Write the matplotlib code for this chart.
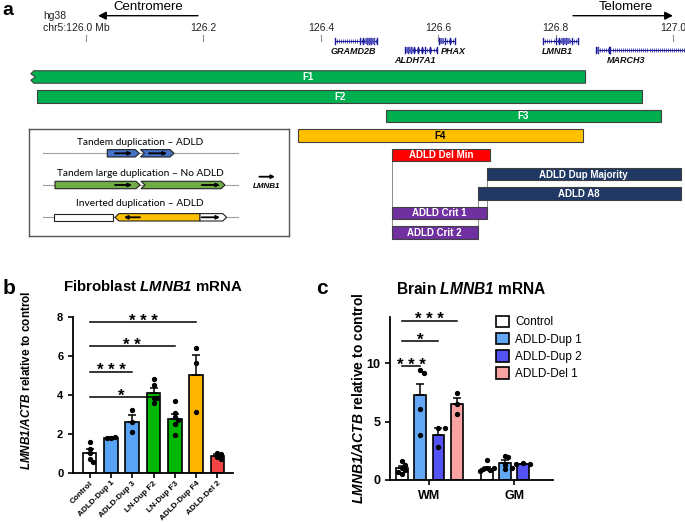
import numpy as np
import matplotlib
matplotlib.use('Agg')
import matplotlib.pyplot as plt
from matplotlib.patches import Polygon, Rectangle, Patch

plt.rcParams['font.family'] = ['Liberation Sans', 'DejaVu Sans']
plt.rcParams['mathtext.fontset'] = 'custom'
plt.rcParams['mathtext.rm'] = 'Liberation Sans'
plt.rcParams['mathtext.it'] = 'Liberation Sans:italic'
plt.rcParams['mathtext.bf'] = 'Liberation Sans:bold'
plt.rcParams['mathtext.bfit'] = 'Liberation Sans:italic:bold'

# ---------------- data ----------------
# panel a: genomic segments (Mb, hg38 chr5)
segments = ['F1', 'F2', 'F3', 'F4', 'ADLD Del Min', 'ADLD Dup Majority',
            'ADLD A8', 'ADLD Crit 1', 'ADLD Crit 2']
seg_start = [125.906, 125.917, 126.511, 126.361, 126.521, 126.683, 126.667, 126.521, 126.521]
seg_end = [126.851, 126.948, 126.979, 126.846, 126.689, 127.013, 127.013, 126.683, 126.667]
connectors = [(4, 8), (5, 7), (6, 8)]  # (from segment, to segment) at start edge

genes = ['GRAMD2B', 'ALDH7A1', 'PHAX', 'LMNB1', 'MARCH3']
gene_start = [126.424, 126.543, 126.601, 126.779, 126.869]
gene_end = [126.495, 126.598, 126.629, 126.838, 127.025]
gene_exons = [
    [126.424, 126.466, 126.472, 126.478, 126.482, 126.486, 126.490, 126.495],
    [126.543, 126.548, 126.553, 126.558, 126.566, 126.572, 126.578, 126.586, 126.598],
    [126.601, 126.612, 126.620, 126.629],
    [126.779, 126.800, 126.806, 126.812, 126.818, 126.828, 126.838],
    [126.869, 126.873, 126.891, 126.893],
]
gene_blocks = [(126.476, 126.492), (126.545, 126.557), (126.603, 126.610),
               (126.809, 126.824), (126.870, 126.874)]
axis_ticks = [126.0, 126.2, 126.4, 126.6, 126.8, 127.0]
axis_ticklabels = ['', '126.2', '126.4', '126.6', '126.8', '127.0']

# panel b: fibroblast LMNB1 mRNA
fib_groups = ['Control', 'ADLD-Dup 1', 'ADLD-Dup 3', 'LN-Dup F2', 'LN-Dup F3',
              'ADLD-Dup F4', 'ADLD-Del 2']
fib_mean = [1.0, 1.8, 2.62, 4.1, 2.75, 5.05, 0.87]
fib_sem = [0.2, 0.03, 0.35, 0.25, 0.27, 1.0, 0.07]
fib_points = [
    [1.56, 1.2, 1.0, 0.7, 0.57],
    [1.78, 1.82, 1.8],
    [3.23, 2.6, 2.08],
    [4.83, 4.5, 3.87, 3.87, 3.57],
    [3.7, 3.05, 2.85, 2.7, 2.5, 1.95],
    [6.44, 5.67, 3.11],
    [1.02, 0.96, 0.8, 0.72],
]
fib_sig = [(3, '*', 3.9), (2, '***', 5.2), (4, '**', 6.5), (5, '***', 7.75)]

# panel c: brain LMNB1 mRNA
regions = ['WM', 'GM']
brain_groups = ['Control', 'ADLD-Dup 1', 'ADLD-Dup 2', 'ADLD-Del 1']
brain_mean = [[1.0, 7.25, 3.88, 6.5], [0.97, 1.45, 1.33]]
brain_sem = [[0.17, 1.0, 0.55, 0.56], [0.12, 0.3, 0.05]]
brain_points = [
    [[1.6, 1.3, 1.0, 0.85, 0.7, 0.55], [9.4, 9.2, 6.1, 3.9], [4.45, 4.43, 2.86], [7.49, 6.49, 5.66]],
    [[1.7, 1.05, 1.0, 0.95, 0.85, 0.75], [2.05, 1.95, 1.3, 0.95, 1.0], [1.42, 1.38, 1.33]],
]
brain_sig = [(1, '***', 9.77), (2, '*', 11.9), (3, '***', 13.65)]

# ---------------- styles ----------------
seg_colors = ['#00B050', '#00B050', '#00B050', '#FFC000', '#FF0000',
              '#1F3864', '#1F3864', '#7030A0', '#7030A0']
seg_text = ['white', 'white', 'white', 'black', 'white', 'white', 'white', 'white', 'white']
fib_colors = ['white', '#59A3F5', '#59A3F5', '#00B800', '#00B800', '#FFB400', '#F24444']
brain_colors = ['white', '#62A8F5', '#5252F5', '#F8A2A2']
gene_color = '#1C1C9A'

W, H = 685, 522
fig = plt.figure(figsize=(W / 100, H / 100), dpi=100)


def px_axes(x0, y0, x1, y1):
    return fig.add_axes([x0 / W, 1 - y1 / H, (x1 - x0) / W, (y1 - y0) / H])


def swarm(vals, yscale, dist, step):
    placed, offs = [], []
    for v in vals:
        o = 0.0
        for k in [0, 1, -1, 2, -2, 3, -3]:
            o = k * step
            if all(np.hypot(o - po, (v - pv) * yscale) >= dist for po, pv in placed):
                break
        placed.append((o, v))
        offs.append(o)
    return np.array(offs)


# ================= panel a =================
MB0, PX0, PXMB = 126.0, 86.0, 587.0
ROW0, ROWPX = 77.0, 19.44


def mb(px):
    return MB0 + (px - PX0) / PXMB


def row(py):
    return (py - ROW0) / ROWPX


ax_a = px_axes(0, 0, W, 250)
ax_a.set_xlim(mb(0), mb(W))
ax_a.set_ylim(row(250), row(0))
ax_a.axis('off')

bh = 0.64
for i, name in enumerate(segments):
    x0, x1 = seg_start[i], seg_end[i]
    if i == 0:
        d = 3 / PXMB
        verts = [(x0 + d, i - bh / 2), (x1, i - bh / 2), (x1, i + bh / 2), (x0 + d, i + bh / 2),
                 (x0, i + bh / 4), (x0 + 1.6 * d, i), (x0, i - bh / 4)]
        ax_a.add_patch(Polygon(verts, closed=True, facecolor=seg_colors[i],
                               edgecolor='#404040', lw=0.8, zorder=3))
    else:
        ax_a.barh(i, x1 - x0, left=x0, height=bh, color=seg_colors[i],
                  edgecolor='#404040', lw=0.8, zorder=3)
    ax_a.text((x0 + x1) / 2, i + 0.02, name, color=seg_text[i], fontsize=7,
              fontweight='bold', ha='center', va='center', zorder=4)

for src, dst in connectors:
    xc = seg_start[src]
    ax_a.plot([xc, xc], [src + bh / 2, dst - bh / 2], color='#8C8C8C', lw=0.7, zorder=1)

# genome axis
for t, lab in zip(axis_ticks, axis_ticklabels):
    ax_a.plot([t, t], [row(34.5), row(40.5)], color='#909090', lw=0.8)
    if lab:
        ax_a.text(t, row(28), lab, fontsize=7.5, ha='center', va='center', color='#222222')
ax_a.text(mb(43), row(28), 'chr5:126.0 Mb', fontsize=7.5, ha='left', va='center', color='#222222')
ax_a.text(mb(43), row(16), 'hg38', fontsize=7.5, ha='left', va='center', color='#222222')

ax_a.annotate('', xy=(mb(98), row(15.7)), xytext=(mb(198), row(15.7)),
              arrowprops=dict(arrowstyle='-|>', color='black', lw=1.0, mutation_scale=12,
                              shrinkA=0, shrinkB=0))
ax_a.text(mb(148), row(7.5), 'Centromere', fontsize=9.5, ha='center', va='center')
ax_a.annotate('', xy=(mb(673), row(15.7)), xytext=(mb(573), row(15.7)),
              arrowprops=dict(arrowstyle='-|>', color='black', lw=1.0, mutation_scale=12,
                              shrinkA=0, shrinkB=0))
ax_a.text(mb(625.5), row(7.5), 'Telomere', fontsize=9.5, ha='center', va='center')

# gene tracks
gene_track_py = [41, 50, 41, 41, 50]
gene_label_py = [51.7, 60.5, 51.7, 51.7, 60.5]
gene_label_shift = [-2, -6, 6, -3, -8]
for g, name in enumerate(genes):
    yr = row(gene_track_py[g])
    ax_a.plot([gene_start[g], gene_end[g]], [yr, yr], color=gene_color, lw=0.8, zorder=2)
    ch = np.arange(gene_start[g], gene_end[g], 0.0035)
    ax_a.plot(ch, np.full(len(ch), yr), ls='none', marker='|', ms=2.2, mew=0.5,
              color=gene_color, zorder=2)
    for e in gene_exons[g]:
        ax_a.plot([e, e], [yr - 0.15, yr + 0.15], color=gene_color, lw=1.0, zorder=2)
    b0, b1 = gene_blocks[g]
    ax_a.add_patch(Rectangle((b0, yr - 0.13), b1 - b0, 0.26, facecolor='#5858C0',
                             edgecolor='none', alpha=0.8, zorder=2))
    xc = (gene_start[g] + min(gene_end[g], 127.0)) / 2 + gene_label_shift[g] / PXMB
    ax_a.text(xc, row(gene_label_py[g]), name, fontsize=6.5, fontstyle='italic',
              fontweight='bold', ha='center', va='center', color='#111111')

fig.text(2 / W, 1 - 2 / H, 'a', fontsize=14, fontweight='bold', ha='left', va='top')

# inset schematic
ax_i = px_axes(29, 129, 289, 236)
ax_i.set_xlim(0, 260)
ax_i.set_ylim(107, 0)
ax_i.set_xticks([])
ax_i.set_yticks([])
for s in ax_i.spines.values():
    s.set_color('#555555')
    s.set_linewidth(1.0)
ax_i.set_facecolor('white')
ax_i.set_zorder(5)


def shape(x0, x1, yc, color, point, notch=False, h=7.4, tip=4.0):
    t, b = yc - h / 2, yc + h / 2
    if point == 'right':
        left = [(x0, b), (x0 + tip, yc), (x0, t)] if notch else [(x0, b), (x0, t)]
        verts = left + [(x1 - tip, t), (x1, yc), (x1 - tip, b)]
    elif point == 'left':
        verts = [(x0, yc), (x0 + tip, t), (x1, t), (x1, b), (x0 + tip, b)]
    else:
        verts = [(x0, t), (x1, t), (x1, b), (x0, b)]
    ax_i.add_patch(Polygon(verts, closed=True, facecolor=color, edgecolor='#222222',
                           lw=0.8, zorder=3))


def small_arrow(xs, xe, yc):
    ax_i.annotate('', xy=(xe, yc), xytext=(xs, yc),
                  arrowprops=dict(arrowstyle='-|>', color='black', lw=1.3, mutation_scale=5,
                                  shrinkA=0, shrinkB=0), zorder=4)


ifont = dict(family=['Lato', 'DejaVu Sans'], fontsize=7.3, ha='center', va='center')
for yl in [24.3, 56, 88.3]:
    ax_i.plot([14.3, 209], [yl, yl], color='#A0A0A0', lw=0.8, zorder=1)
ax_i.text(111, 13, 'Tandem duplication \u2013 ADLD', **ifont)
shape(78.3, 110.3, 24.3, '#4472C4', 'right')
shape(111.5, 145, 24.3, '#4472C4', 'right', notch=True)
small_arrow(86, 103, 24.3)
small_arrow(120, 138, 24.3)

ax_i.text(111, 44.3, 'Tandem large duplication \u2013 No ADLD', **ifont)
shape(26, 111, 56, '#70AD47', 'right')
shape(112, 196, 56, '#70AD47', 'right', notch=True)
small_arrow(86, 103, 56)
small_arrow(172.7, 191, 56)

ax_i.text(111, 74.3, 'Inverted duplication \u2013 ADLD', **ifont)
shape(25, 84.3, 88.3, 'white', 'none')
shape(86, 171, 88.3, '#FFC000', 'left')
shape(171, 197.7, 88.3, 'white', 'right')
small_arrow(111, 95, 88.3)
small_arrow(172.7, 191, 88.3)

small_arrow(230.3, 246, 47.7)
ax_i.text(238, 57.7, 'LMNB1', fontsize=5.8, fontstyle='italic', fontweight='bold',
          ha='center', va='center')

# ================= panel b =================
ax_b = px_axes(73, 317.3, 233, 472.7)
xb = np.arange(len(fib_groups))
ax_b.bar(xb, fib_mean, width=0.64, color=fib_colors, edgecolor='black', lw=1.2, zorder=2)
ax_b.errorbar(xb, fib_mean, yerr=[np.zeros(len(xb)), fib_sem], fmt='none', ecolor='black',
              elinewidth=1.1, capsize=3, capthick=1.1, zorder=3)
for i, pts in enumerate(fib_points):
    offs = swarm(pts, 19.4 / 21.3, 0.165, 0.17)
    ax_b.plot(xb[i] + offs, pts, 'o', color='black', ms=2.8, zorder=4)
for j, stars, yv in fib_sig:
    ax_b.plot([xb[0], xb[j]], [yv, yv], color='black', lw=1.1, clip_on=False)
    ax_b.annotate(' '.join(stars), xy=((xb[0] + xb[j]) / 2, yv), xytext=(0, -2.5),
                  textcoords='offset points', ha='center', va='baseline',
                  fontsize=12, fontweight='bold', annotation_clip=False)
ax_b.set_xlim(-0.78, 6.73)
ax_b.set_ylim(0, 8)
ax_b.set_yticks([0, 2, 4, 6, 8])
ax_b.set_xticks(xb)
ax_b.set_xticklabels(fib_groups, rotation=45, ha='right', rotation_mode='anchor',
                     fontsize=5.9, fontweight='bold')
for lab in ax_b.get_yticklabels():
    lab.set_fontweight('bold')
    lab.set_fontsize(8)
ax_b.tick_params(width=1.2, length=3.5)
ax_b.tick_params(axis='x', pad=1.5)
for s in ['top', 'right']:
    ax_b.spines[s].set_visible(False)
for s in ['left', 'bottom']:
    ax_b.spines[s].set_linewidth(1.3)
ax_b.set_title(r'Fibroblast $\mathbfit{LMNB1}$ mRNA', fontsize=10.8, fontweight='bold', pad=19)
fig.text(27 / W, 1 - 380 / H, r'$\mathbfit{LMNB1/ACTB}$ relative to control', rotation=90,
         fontsize=8.5, fontweight='bold', ha='center', va='center')
fig.text(3 / W, 1 - 288 / H, 'b', fontsize=15, fontweight='bold', ha='left', va='center')

# ================= panel c =================
ax_c = px_axes(390, 316.7, 553.3, 480)
GAP = 4.64
for r, reg in enumerate(regions):
    n = len(brain_mean[r])
    xc = r * GAP + np.arange(n)
    ax_c.bar(xc, brain_mean[r], width=0.64, color=brain_colors[:n], edgecolor='black',
             lw=1.2, zorder=2)
    ax_c.errorbar(xc, brain_mean[r], yerr=[np.zeros(n), brain_sem[r]], fmt='none',
                  ecolor='black', elinewidth=1.1, capsize=3, capthick=1.1, zorder=3)
    for i, pts in enumerate(brain_points[r]):
        offs = swarm(pts, 11.67 / 18.33, 0.2, 0.19)
        ax_c.plot(xc[i] + offs, pts, 'o', color='black', ms=2.8, zorder=4)
for j, stars, yv in brain_sig:
    ax_c.plot([0, j], [yv, yv], color='black', lw=1.1, clip_on=False)
    ax_c.annotate(' '.join(stars), xy=(j / 2, yv), xytext=(0, -2.5),
                  textcoords='offset points', ha='center', va='baseline',
                  fontsize=12, fontweight='bold', annotation_clip=False)
ax_c.set_xlim(-0.645, 8.28)
ax_c.set_ylim(0, 14)
ax_c.set_yticks([0, 5, 10])
ax_c.set_xticks([1.5, GAP + 1.5])
ax_c.set_xticklabels(regions, fontsize=9, fontweight='bold')
for lab in ax_c.get_yticklabels():
    lab.set_fontweight('bold')
    lab.set_fontsize(9)
ax_c.tick_params(width=1.2, length=3.5)
for s in ['top', 'right']:
    ax_c.spines[s].set_visible(False)
for s in ['left', 'bottom']:
    ax_c.spines[s].set_linewidth(1.3)
ax_c.set_title(r'Brain $\mathbfit{LMNB1}$ mRNA', fontsize=11.2, fontweight='bold', pad=16)
fig.text(358 / W, 1 - 398 / H, r'$\mathbfit{LMNB1/ACTB}$ relative to control', rotation=90,
         fontsize=10, fontweight='bold', ha='center', va='center')
fig.text(316 / W, 1 - 289 / H, 'c', fontsize=15, fontweight='bold', ha='left', va='center')

handles = [Patch(facecolor=c, edgecolor='black', lw=1.2) for c in brain_colors]
fig.legend(handles, brain_groups, loc='upper left', bbox_to_anchor=(496 / W, 1 - 315.5 / H),
           frameon=False, fontsize=8.5, handlelength=1.13, handleheight=1.13,
           handletextpad=0.5, labelspacing=0.38, borderpad=0, borderaxespad=0)

fig.savefig('out.png', dpi=100)
